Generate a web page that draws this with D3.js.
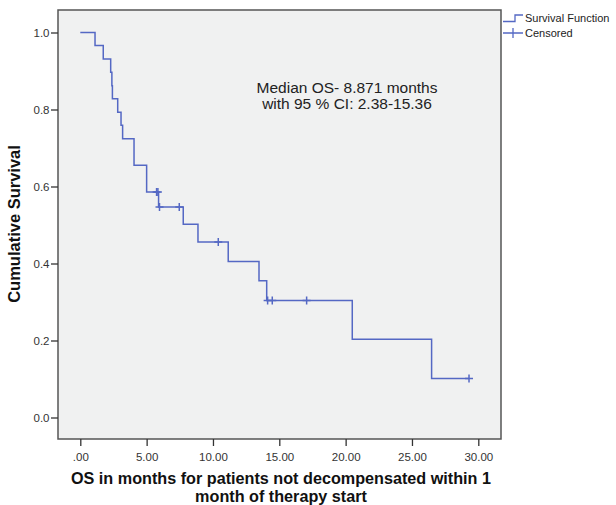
<!DOCTYPE html>
<html>
<head>
<meta charset="utf-8">
<script src="https://cdn.jsdelivr.net/npm/d3@7"></script>
<style>
  html, body { margin: 0; padding: 0; background: #fff; }
  svg { display: block; font-family: "Liberation Sans", Arial, sans-serif; }
</style>
</head>
<body>
<svg id="chart" width="616" height="505"></svg>
<script>
// Kaplan-Meier steps
const stepTimes = [0, 1.11, 1.73, 2.29, 2.38, 2.42, 2.82, 3.07, 3.19, 4.05, 5.0, 5.9, 7.76, 8.87, 11.15, 13.47, 14.05, 20.5, 26.48];
const stepSurv  = [1.0, 0.966, 0.931, 0.897, 0.862, 0.828, 0.793, 0.759, 0.724, 0.655, 0.586, 0.547, 0.502, 0.456, 0.405, 0.355, 0.304, 0.203, 0.101];
const lastTime = 29.3;

const censorTimes = [5.75, 5.85, 5.97, 7.46, 10.4, 14.12, 14.47, 17.06, 29.3];
const censorSurv  = [0.586, 0.586, 0.547, 0.547, 0.456, 0.304, 0.304, 0.304, 0.101];

const xTicks = [0, 5, 10, 15, 20, 25, 30];
const yTicks = [0, 0.2, 0.4, 0.6, 0.8, 1.0];

const blue = '#5468c4';
const svg = d3.select('#chart');

const frame = { left: 58, top: 10, right: 501, bottom: 439 };
const x = d3.scaleLinear().domain([0, 30]).range([80.3, 478.3]);
const y = d3.scaleLinear().domain([0, 1]).range([417.5, 32.5]);

svg.append('rect')
  .attr('x', frame.left).attr('y', frame.top)
  .attr('width', frame.right - frame.left).attr('height', frame.bottom - frame.top)
  .attr('fill', '#f0f1f1').attr('stroke', '#555').attr('stroke-width', 1.5);

// axes
const xAxis = svg.append('g').attr('transform', `translate(0,${frame.bottom})`)
  .call(d3.axisBottom(x).tickValues(xTicks).tickSize(7).tickSizeOuter(0).tickFormat(d => d === 0 ? '.00' : d3.format('.2f')(d)));
const yAxis = svg.append('g').attr('transform', `translate(${frame.left},0)`)
  .call(d3.axisLeft(y).tickValues(yTicks).tickSize(7).tickSizeOuter(0).tickFormat(d3.format('.1f')));
[xAxis, yAxis].forEach(a => {
  a.select('.domain').remove();
  a.selectAll('line').attr('stroke', '#333').attr('stroke-width', 1.3);
  a.selectAll('text').attr('fill', '#333').attr('font-size', 11.5).attr('font-family', '"Liberation Sans", Arial, sans-serif');
});
xAxis.selectAll('text').attr('dy', '1.05em');
yAxis.selectAll('text').attr('x', -8.5);

// survival curve
const pts = stepTimes.map((t, i) => [t, stepSurv[i]]);
pts.push([lastTime, stepSurv[stepSurv.length - 1]]);
svg.append('path')
  .datum(pts)
  .attr('fill', 'none').attr('stroke', blue).attr('stroke-width', 1.5)
  .attr('d', d3.line().x(d => x(d[0])).y(d => y(d[1])).curve(d3.curveStepAfter));

// censor marks
svg.append('g').selectAll('path')
  .data(censorTimes.map((t, i) => [t, censorSurv[i]]))
  .join('path')
  .attr('stroke', blue).attr('stroke-width', 1.5).attr('fill', 'none')
  .attr('d', d => {
    const cx = x(d[0]), cy = y(d[1]);
    return `M${cx},${cy - 4}V${cy + 4}M${cx - 4},${cy}H${cx + 4}`;
  });

// annotation
const note = svg.append('text').attr('x', 347).attr('font-size', 15.5).attr('fill', '#222').attr('text-anchor', 'middle');
note.append('tspan').attr('x', 347).attr('y', 93).text('Median OS- 8.871 months');
note.append('tspan').attr('x', 347).attr('y', 109).text('with 95 % CI: 2.38-15.36');

// legend
const lg = svg.append('g');
lg.append('path').attr('fill', 'none').attr('stroke', blue).attr('stroke-width', 1.3)
  .attr('d', 'M503,21.5H515V15H523');
lg.append('path').attr('fill', 'none').attr('stroke', blue).attr('stroke-width', 1.3)
  .attr('d', 'M503,33H523M513,28V38');
lg.append('text').attr('x', 525).attr('y', 22).attr('font-size', 11).attr('fill', '#222').text('Survival Function');
lg.append('text').attr('x', 525).attr('y', 37).attr('font-size', 11).attr('fill', '#222').text('Censored');

// axis titles
const xt = svg.append('text').attr('text-anchor', 'middle').attr('font-weight', 'bold').attr('font-size', 16.2).attr('fill', '#111');
xt.append('tspan').attr('x', 281).attr('y', 484).text('OS in months for patients not decompensated within 1');
xt.append('tspan').attr('x', 281).attr('y', 502).text('month of therapy start');

svg.append('text')
  .attr('transform', 'translate(20,224) rotate(-90)')
  .attr('text-anchor', 'middle').attr('font-weight', 'bold').attr('font-size', 16.5).attr('fill', '#111')
  .text('Cumulative Survival');
</script>
</body>
</html>
